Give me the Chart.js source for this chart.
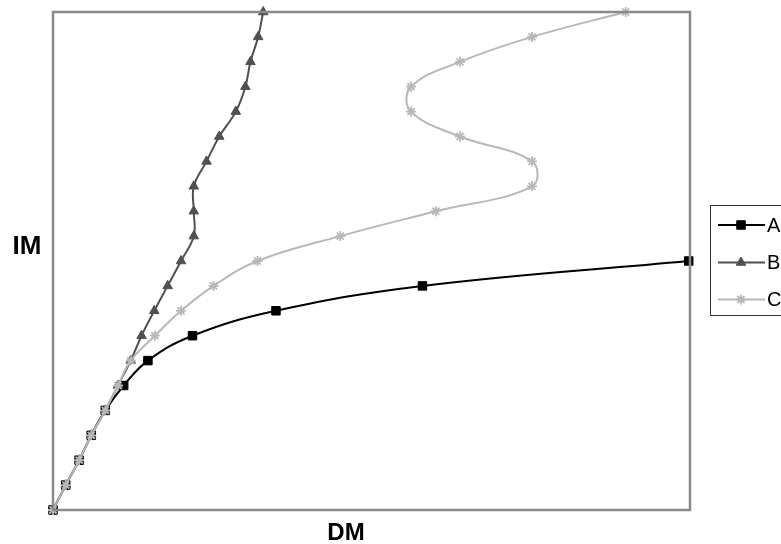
<!DOCTYPE html>
<html>
<head>
<meta charset="utf-8">
<script src="https://cdn.jsdelivr.net/npm/chart.js@4/dist/chart.umd.min.js"></script>
<style>
  html, body { margin: 0; padding: 0; background: #fff; }
  #wrap { width: 781px; height: 544px; position: relative; }
</style>
</head>
<body>
<div id="wrap"><canvas id="idaChart"></canvas></div>
<script>
// IM levels step up by 0.1 per analysis; DM read per series
var imLevels = [0, 0.1, 0.2, 0.3, 0.4, 0.5, 0.6, 0.7, 0.8, 0.9, 1.0,
                1.1, 1.2, 1.3, 1.4, 1.5, 1.6, 1.7, 1.8, 1.9, 2.0];

var dmA = [0, 0.20, 0.41, 0.60, 0.82, 1.11, 1.49, 2.19, 3.50, 5.80, 9.98];
var dmB = [0, 0.20, 0.41, 0.60, 0.82, 1.02, 1.22, 1.39, 1.59, 1.80, 2.01,
           2.21, 2.21, 2.21, 2.41, 2.61, 2.87, 3.02, 3.10, 3.22, 3.30];
var dmC = [0, 0.20, 0.41, 0.60, 0.82, 1.02, 1.22, 1.60, 2.01, 2.52, 3.21,
           4.51, 6.01, 7.52, 7.52, 6.39, 5.62, 5.62, 6.39, 7.52, 8.99];

var seriesNames = ['A', 'B', 'C'];

function toPoints(dm) {
  var pts = [];
  for (var i = 0; i < dm.length; i++) {
    pts.push({ x: dm[i], y: imLevels[i] });
  }
  return pts;
}

// frame, axis titles and the legend box are painted by hand
var decorations = {
  id: 'decorations',
  afterDatasetsDraw: function(chart) {
    var ctx = chart.ctx;
    var a = chart.chartArea;
    ctx.save();
    ctx.strokeStyle = '#8a8a8a';
    ctx.lineWidth = 2.5;
    ctx.strokeRect(a.left, a.top, a.right - a.left, a.bottom - a.top);

    ctx.fillStyle = '#000';
    ctx.textAlign = 'center';
    ctx.textBaseline = 'middle';
    ctx.font = 'bold 26px "Liberation Sans", Arial, sans-serif';
    ctx.fillText('IM', 27, 247);
    ctx.font = 'bold 24px "Liberation Sans", Arial, sans-serif';
    ctx.fillText('DM', 346, 533);

    // legend
    ctx.strokeStyle = '#333';
    ctx.lineWidth = 1;
    ctx.strokeRect(710.5, 205.5, 100, 110);
    var rows = [225, 262.5, 299.5];
    ctx.font = '20px "Liberation Sans", Arial, sans-serif';
    ctx.textAlign = 'left';
    chart.data.datasets.forEach(function(ds, i) {
      var y = rows[i];
      ctx.strokeStyle = ds.borderColor;
      ctx.lineWidth = ds.borderWidth;
      ctx.beginPath();
      ctx.moveTo(718, y);
      ctx.lineTo(765, y);
      ctx.stroke();
      ctx.fillStyle = ds.pointBackgroundColor;
      ctx.strokeStyle = ds.pointBorderColor;
      ctx.lineWidth = ds.pointBorderWidth;
      Chart.helpers.drawPoint(ctx, {
        pointStyle: ds.pointStyle,
        radius: ds.pointRadius,
        borderWidth: ds.pointBorderWidth,
        rotation: 0
      }, 741, y);
      ctx.fillStyle = '#000';
      ctx.fillText(ds.label, 767, y + 1);
    });
    ctx.restore();
  }
};

var config = {
  type: 'scatter',
  data: {
    datasets: [{
      label: seriesNames[0],
      data: toPoints(dmA),
      showLine: true,
      borderColor: '#000000',
      borderWidth: 2,
      pointStyle: 'rect',
      pointRadius: 6,
      pointBorderWidth: 1,
      pointBackgroundColor: '#000000',
      pointBorderColor: '#000000',
      tension: 0.4,
      clip: false,
      order: 3
    }, {
      label: seriesNames[1],
      data: toPoints(dmB),
      showLine: true,
      borderColor: '#505050',
      borderWidth: 2,
      pointStyle: 'triangle',
      pointRadius: 5.5,
      pointBorderWidth: 1,
      pointBackgroundColor: '#505050',
      pointBorderColor: '#505050',
      tension: 0.4,
      clip: false,
      order: 2
    }, {
      label: seriesNames[2],
      data: toPoints(dmC),
      showLine: true,
      borderColor: '#b8b8b8',
      borderWidth: 2,
      pointStyle: 'star',
      pointRadius: 5,
      pointBorderWidth: 1.8,
      pointBackgroundColor: '#b8b8b8',
      pointBorderColor: '#b8b8b8',
      tension: 0.4,
      clip: false,
      order: 1
    }]
  },
  options: {
    responsive: false,
    animation: false,
    layout: { padding: { left: 53, top: 12, right: 91, bottom: 34 } },
    plugins: { legend: { display: false }, tooltip: { enabled: false } },
    scales: {
      x: { type: 'linear', min: 0, max: 10, display: false },
      y: { type: 'linear', min: 0, max: 2, display: false }
    }
  },
  plugins: [decorations]
};

var canvas = document.getElementById('idaChart');
canvas.width = 781;
canvas.height = 544;
new Chart(canvas.getContext('2d'), config);
</script>
</body>
</html>
